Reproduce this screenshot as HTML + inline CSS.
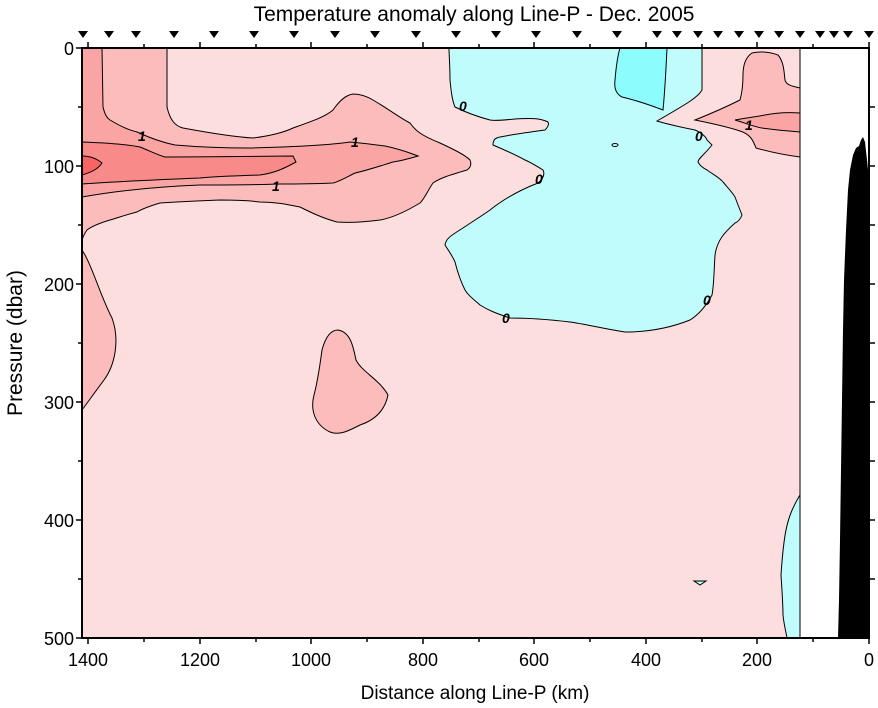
<!DOCTYPE html>
<html><head><meta charset="utf-8"><style>
body{margin:0;background:#fff;width:878px;height:708px;overflow:hidden}
svg{display:block}
text{font-family:"Liberation Sans Narrow","Liberation Sans",sans-serif;fill:#000}
</style></head><body>
<svg width="878" height="708" viewBox="0 0 878 708">
<rect x="82" y="48" width="718" height="590" fill="#fddede"/>
<path d="M82,250 C92,265 100,295 112,318 C120,340 115,365 104,380 C95,392 88,402 82,410 Z" fill="#fcbcbc" stroke="#000" stroke-width="1"/>
<path d="M338,330 C350,332 353,345 356,360 C362,372 380,380 388,395 C385,410 375,420 360,425 C350,430 340,436 330,432 C315,425 310,410 314,395 C318,380 320,365 322,350 C326,335 332,330 338,330 Z" fill="#fcbcbc" stroke="#000" stroke-width="1"/>
<path d="M82,48 L167,48 L167,107 C170,120 175,126 183,128 C210,133 235,137 253,138 C270,136 285,132 293,128 C310,122 325,117 333,110 C340,100 346,95 353,94 C362,94 368,97 373,100 C390,110 400,118 410,123 C415,130 420,135 440,143 C455,150 465,155 470,160 C472,165 470,168 467,170 C450,175 440,178 433,183 C428,190 425,198 420,203 C405,212 392,218 380,220 C365,222 350,223 337,222 C322,218 310,212 300,207 C285,204 275,202 260,202 C245,200 232,200 220,200 C195,201 175,202 160,203 C150,206 142,209 137,212 C125,215 117,218 110,220 C100,223 92,226 87,230 C84,234 83,237 82,240 Z" fill="#fcbcbc" stroke="#000" stroke-width="1"/>
<path d="M82,48 L102,48 L103,107 C105,115 107,118 110,120 C120,126 128,130 137,132 C150,138 165,143 175,145 C210,148 235,148 250,148 C290,147 330,145 350,142 C360,143 370,144 385,146 C400,149 410,153 418,156 C408,159 400,161 393,162 C380,166 368,170 355,173 C345,178 338,182 333,183 C310,184 290,184 280,184 C250,185 220,185 200,185 C150,187 110,192 82,197 Z" fill="#fba4a4" stroke="#000" stroke-width="1"/>
<path d="M82,142 C110,143 130,145 140,147 C150,151 158,155 165,157 C210,157 260,156 293,156 L296,162 C285,168 275,173 260,175 C230,176 210,177 200,178 C150,180 110,182 82,184 Z" fill="#f88a8a" stroke="#000" stroke-width="1"/>
<path d="M82,156 C90,156 96,158 102,163 C98,169 92,172 82,175 Z" fill="#f86464" stroke="#000" stroke-width="1"/>
<path d="M800,88 C792,86 786,85 785,80 C784,72 784,62 778,55 C770,52 760,51 752,53 C746,57 743,65 743,75 C743,85 742,93 740,100 C730,105 720,110 695,120 C710,123 725,126 740,131 C750,134 753,140 756,148 C770,152 785,155 800,157 Z" fill="#fcbcbc" stroke="#000" stroke-width="1"/>
<path d="M800,113 C785,112 775,113 765,115 C755,117 745,118 735,120 C745,123 755,127 762,128 C775,130 788,131 800,132 Z" fill="#fba4a4" stroke="#000" stroke-width="1"/>
<path d="M449,48 L702,48 L702,90 C698,97 690,102 657,121 C670,125 685,128 695,130 C702,133 706,137 707,140 L712,145 C708,150 705,153 703,155 C700,158 698,160 698,162 C700,166 703,168 707,170 C714,175 720,178 723,182 C728,188 732,192 735,197 C738,205 740,210 742,215 C740,220 738,222 735,223 C725,232 717,240 715,255 C714,270 714,285 712,295 C705,308 698,315 690,320 C670,328 650,332 625,332 C600,328 585,324 570,322 C545,319 525,318 510,318 C495,313 488,310 480,305 C472,298 468,295 465,290 C460,280 457,270 455,262 C452,255 448,250 445,245 C446,238 452,235 463,228 C475,220 483,215 490,210 C505,198 520,190 538,183 C544,178 545,174 543,170 C535,165 530,162 525,160 C512,153 500,148 493,145 C493,140 495,138 500,137 C515,134 530,132 545,130 C548,127 549,124 548,122 C540,118 530,118 515,119 C505,120 495,121 490,120 C475,116 465,112 455,107 C452,100 451,90 450,80 C450,65 449,55 449,48 Z" fill="#c0fcfc" stroke="#000" stroke-width="1"/>
<path d="M620,48 L667,48 C666,70 665,90 663,110 C650,105 635,100 622,97 C616,94 614,88 615,80 C616,68 617,58 620,48 Z" fill="#8cfcfc" stroke="#000" stroke-width="1"/>
<ellipse cx="615" cy="145" rx="3" ry="1.5" fill="none" stroke="#000" stroke-width="1"/>
<path d="M800,495 C794,505 789,515 786,530 C783,545 782,560 781,575 C782,590 783,605 783,615 C784,625 786,632 787,638 L800,638 Z" fill="#c0fcfc" stroke="#000" stroke-width="1"/>
<path d="M694,581 L706,581 L700,585 Z" fill="#c0fcfc" stroke="#000" stroke-width="1"/>
<rect x="800" y="48" width="69" height="590" fill="#fff"/>
<line x1="800" y1="48" x2="800" y2="638" stroke="#000"/>
<path d="M838,638 L839,600 L840,540 L841,470 L842,400 L843,330 L844,280 L846,230 L848,190 L850,170 L853,155 L856,148 L859,146 L861,140 L863,137 L865,142 L867,160 L869,180 L869,638 Z" fill="#000"/>
<g font-style="italic" font-weight="bold" font-size="14" font-family="Liberation Sans,sans-serif">
<text x="138" y="141">1</text><text x="351" y="147">1</text><text x="272" y="191">1</text>
<text x="459" y="111">0</text><text x="535" y="184">0</text><text x="502" y="323">0</text>
<text x="695" y="141">0</text><text x="703" y="305">0</text><text x="745" y="130">1</text>
</g>
<rect x="82" y="48" width="787" height="590" fill="none" stroke="#000" stroke-width="2"/>
<g stroke="#000" stroke-width="1.5">
<path d="M88,48v-6M144,48v-4M200,48v-6M256,48v-4M311,48v-6M367,48v-4M423,48v-6M479,48v-4M534,48v-6M590,48v-4M646,48v-6M702,48v-4M757,48v-6M813,48v-4M869,48v-6"/>
<path d="M88,638v6M144,638v4M200,638v6M256,638v4M311,638v6M367,638v4M423,638v6M479,638v4M534,638v6M590,638v4M646,638v6M702,638v4M757,638v6M813,638v4M869,638v6"/>
<path d="M82,48h-6M82,107h-4M82,166h-6M82,225h-4M82,284h-6M82,343h-4M82,402h-6M82,461h-4M82,520h-6M82,579h-4M82,638h-6"/>
<path d="M869,107h6M869,166h6M869,225h6M869,284h6M869,343h6M869,402h6M869,461h6M869,520h6M869,579h6"/>
</g>
<g fill="#000">
<path d="M78,31h10l-5,7z M104,31h10l-5,7z M131,31h10l-5,7z M169,31h10l-5,7z M209,31h10l-5,7z M249,31h10l-5,7z M289,31h10l-5,7z M330,31h10l-5,7z M370,31h10l-5,7z M411,31h10l-5,7z M451,31h10l-5,7z M491,31h10l-5,7z M531,31h10l-5,7z M572,31h10l-5,7z M612,31h10l-5,7z M652,31h10l-5,7z M672,31h10l-5,7z M693,31h10l-5,7z M713,31h10l-5,7z M734,31h10l-5,7z M754,31h10l-5,7z M774,31h10l-5,7z M795,31h10l-5,7z M815,31h10l-5,7z M829,31h10l-5,7z M843,31h10l-5,7z M864,31h10l-5,7z"/>
</g>
<g font-size="18" text-anchor="middle">
<text x="88" y="666">1400</text><text x="200" y="666">1200</text><text x="311" y="666">1000</text><text x="423" y="666">800</text><text x="534" y="666">600</text><text x="646" y="666">400</text><text x="757" y="666">200</text><text x="869" y="666">0</text>
</g>
<g font-size="18" text-anchor="end">
<text x="74" y="55">0</text><text x="74" y="173">100</text><text x="74" y="291">200</text><text x="74" y="409">300</text><text x="74" y="527">400</text><text x="74" y="645">500</text>
</g>
<text x="475" y="699" font-size="19" text-anchor="middle">Distance along Line-P (km)</text>
<text x="474" y="21" font-size="21" text-anchor="middle">Temperature anomaly along Line-P - Dec. 2005</text>
<text transform="translate(22,343) rotate(-90)" font-size="21" text-anchor="middle">Pressure (dbar)</text>
</svg>
</body></html>
